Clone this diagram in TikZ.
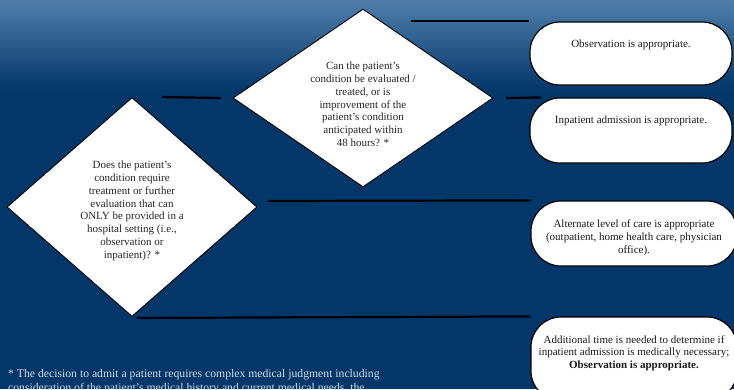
\documentclass[tikz,border=0pt]{standalone}
\usepackage{fontspec}
\setmainfont{Liberation Serif}
\definecolor{SlideNavy}{HTML}{03376A}
\definecolor{SlideSky}{HTML}{4F7EAA}
\definecolor{NoteGrey}{HTML}{D3DBE6}
\usetikzlibrary{shapes.geometric, calc}

\begin{document}
\begin{tikzpicture}[x=1pt, y=-1pt,
    decision/.style={diamond, draw=black, fill=white, line width=0.9pt, inner sep=0pt,
      align=center, font=\fontsize{11}{12.8}\selectfont, text=black!85},
    outcome/.style={rectangle, draw=black, fill=white, line width=1.2pt, rounded corners=30pt,
      align=center, font=\fontsize{11}{12.8}\selectfont, text=black!90},
    link/.style={line width=2.2pt, black}]
  \useasboundingbox (0,0) rectangle (734,389);
  \clip (0,0) rectangle (734,389);
  % Background
  \fill[SlideNavy] (0,0) rectangle (734,389);
  \shade[top color=SlideSky, bottom color=SlideNavy] (0,0) rectangle (734,90);
  % Decisions
  \node[decision, shape aspect=1.14, minimum width=250pt, minimum height=219pt, text height=105pt] (hosp) at (132,207)
    {Does the patient’s\\condition require\\treatment or further\\evaluation that can\\ONLY be provided in a\\hospital setting (i.e.,\\observation or\\inpatient)? *};
  \node[decision, shape aspect=1.46, minimum width=260pt, minimum height=178pt, text height=97pt] (within) at (363,98)
    {Can the patient’s\\condition be evaluated /\\treated, or is\\improvement of the\\patient’s condition\\anticipated within\\48 hours? *};
  % Outcomes
  \node[outcome, minimum width=202pt, minimum height=63pt, text depth=20pt] (obs) at (631,53.5)
    {Observation is appropriate.};
  \node[outcome, minimum width=202pt, minimum height=65pt, text depth=22pt] (inpat) at (631,130.5)
    {Inpatient admission is appropriate.};
  \node[outcome, minimum width=206pt, minimum height=65pt, text height=42pt] (alt) at (634,233.5)
    {Alternate level of care is appropriate\\(outpatient, home health care, physician\\office).};
  \node[outcome, minimum width=206pt, minimum height=84pt, text depth=14pt] (more) at (634,359)
    {Additional time is needed to determine if\\inpatient admission is medically necessary;\\\textbf{Observation is appropriate.}};
  % Connectors
  \coordinate (yesfrom) at ($(hosp.north)+(30,0)$);
  \coordinate (yesto) at ($(within.west)+(-12,0)$);
  \coordinate (obsfrom) at (411,21);
  \coordinate (inpatfrom) at ($(within.east)+(13,0)$);
  \coordinate (inpatto) at ($(inpat.north west)+(12,0)$);
  \draw[link] (yesfrom) -- (yesto);
  \draw[link] (obsfrom) -- (obs.north west |- obsfrom);
  \draw[link] (inpatfrom) -- (inpatto);
  \draw[link] ($(hosp.east)+(11,-6)$) -- (alt.north west);
  \draw[link] ($(hosp.south)+(5,1)$) -- (more.north west);
  % Footnote
  \node[anchor=north west, inner sep=0pt, align=left, text=NoteGrey, font=\fontsize{11.7}{13.5}\selectfont] (note) at (8,369.5)
    {* The decision to admit a patient requires complex medical judgment including\\
     consideration of the patient’s medical history and current medical needs, the};
\end{tikzpicture}
\end{document}
